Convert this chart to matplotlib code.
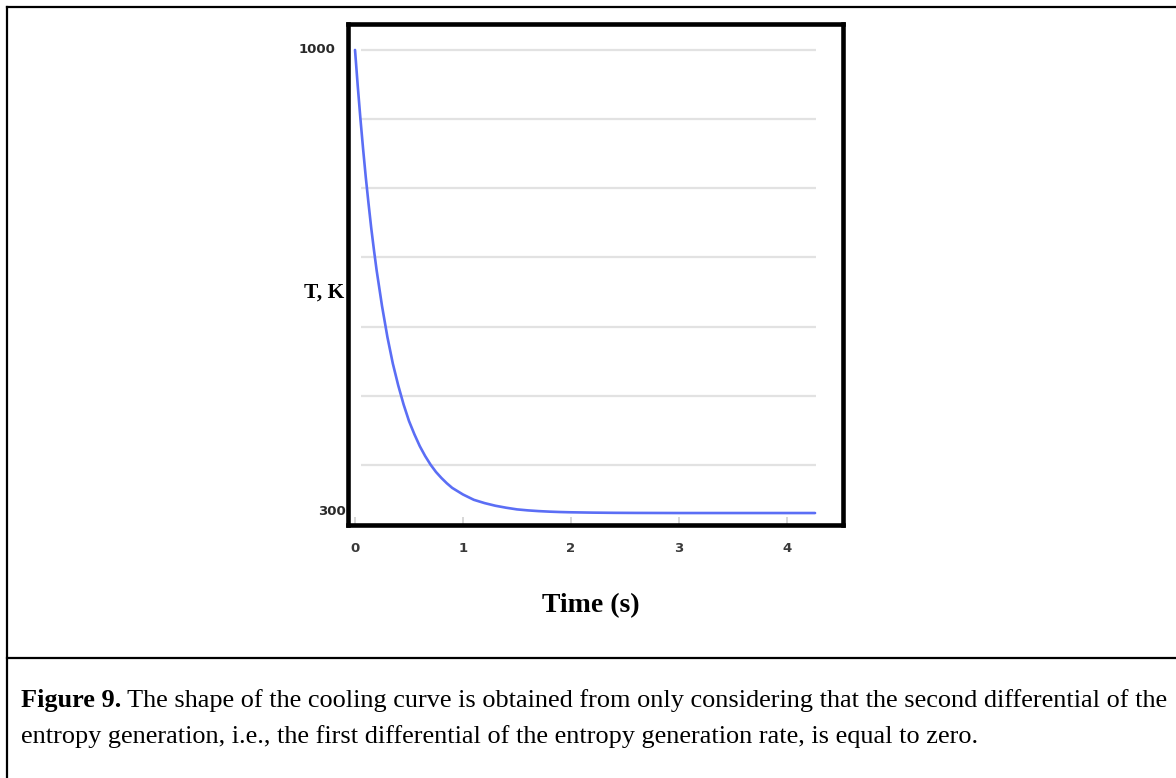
import matplotlib
matplotlib.use("Agg")
import matplotlib.pyplot as plt
import matplotlib.transforms as mtransforms
from matplotlib.lines import Line2D

# Cooling curve, values
time_s = [0, 0.025, 0.05, 0.075, 0.1, 0.125, 0.15, 0.175, 0.2, 0.25, 0.3, 0.35,
          0.4, 0.45, 0.5, 0.55, 0.6, 0.65, 0.7, 0.75, 0.8, 0.85, 0.9, 0.95, 1.0,
          1.1, 1.2, 1.3, 1.4, 1.5, 1.6, 1.7, 1.8, 1.9, 2.0, 2.2, 2.4, 2.6, 3.0,
          3.5, 4.0, 4.26]
temp_k = [1000, 946, 896, 850, 807, 768, 731, 698, 667, 613, 566, 526,
          493, 464, 439, 419, 401, 386, 373, 362, 353, 345, 338, 333, 328,
          320, 315, 311, 308, 305.5, 304, 302.9, 302.1, 301.5, 301.1, 300.6, 300.3,
          300.15, 300, 300, 300, 300]
x_ticks = [0, 1, 2, 3, 4]
y_labels = [1000, 300]
grid_levels = [1000, 896, 791, 687, 581, 477, 373]

caption_bold = "Figure 9."
caption_line1 = "The shape of the cooling curve is obtained from only considering that the second differential of the"
caption_line2 = "entropy generation, i.e., the first differential of the entropy generation rate, is equal to zero."

W, H = 1176, 778
fig = plt.figure(figsize=(W / 100, H / 100), dpi=100)
fig.patch.set_facecolor("white")

def fx(px):
    return px / W

def fy(py):
    return 1 - py / H

# --- plot area ---
ax = fig.add_axes([fx(348), fy(525), (843 - 348) / W, (525 - 23.5) / H])
ax.plot(time_s, temp_k, color="#5b6ef5", lw=1.9, solid_capstyle="round",
        solid_joinstyle="round")
ax.hlines(grid_levels, 0.06, 4.27, color="#e2e2e2", lw=1.6, zorder=0)
ax.set_xlim(-0.065, 4.519)
ax.set_ylim(281.9, 1040)

for s in ax.spines.values():
    s.set_linewidth(3.3)
    s.set_color("black")

ax.set_xticks(x_ticks)
ax.set_xticklabels([str(t) for t in x_ticks], fontsize=9.5, fontweight="bold",
                   color="#3a3a3a", family="DejaVu Sans")
ax.tick_params(axis="x", direction="in", length=6, width=1.3, color="#d4d4d4", pad=12)
ax.set_yticks([])

trans = mtransforms.blended_transform_factory(ax.transAxes, ax.transData)
ax.text(-0.026, y_labels[0], str(y_labels[0]), transform=trans, ha="right", va="center",
        fontsize=9.5, fontweight="bold", color="#2a2a2a", family="DejaVu Sans")
ax.text(-0.005, y_labels[1] + 2, str(y_labels[1]), transform=trans, ha="right", va="center",
        fontsize=9.5, fontweight="bold", color="#2a2a2a", family="DejaVu Sans")

fig.text(fx(344), fy(293), "T, K", ha="right", va="center", fontsize=15.5,
         fontweight="bold", family="Liberation Serif")
fig.text(fx(591), fy(606), "Time (s)", ha="center", va="center", fontsize=20,
         fontweight="bold", family="Liberation Serif")

# --- outer frame and caption divider ---
for xs, ys in [([7, 7], [7, H]), ([7, W], [7, 7]), ([7, W], [658, 658])]:
    fig.add_artist(Line2D([fx(v) for v in xs], [fy(v) for v in ys],
                          color="black", lw=1.6, transform=fig.transFigure))

# --- caption, sized so the first line fills the box width ---
renderer = fig.canvas.get_renderer()
x0, x1 = 21, 1168
fs = 16
tb = fig.text(fx(x0), fy(707), caption_bold, fontsize=fs, fontweight="bold",
              family="Liberation Serif", va="baseline")
t1 = fig.text(0, fy(707), " " + caption_line1, fontsize=fs,
              family="Liberation Serif", va="baseline")
wb = tb.get_window_extent(renderer).width
w1 = t1.get_window_extent(renderer).width
fs = fs * (x1 - x0) / (wb + w1)
tb.set_fontsize(fs)
t1.set_fontsize(fs)
wb = tb.get_window_extent(renderer).width
t1.set_x(fx(x0 + wb))
fig.text(fx(x0), fy(743), caption_line2, fontsize=fs, family="Liberation Serif",
         va="baseline")

fig.savefig("out.png", dpi=100, facecolor="white")
